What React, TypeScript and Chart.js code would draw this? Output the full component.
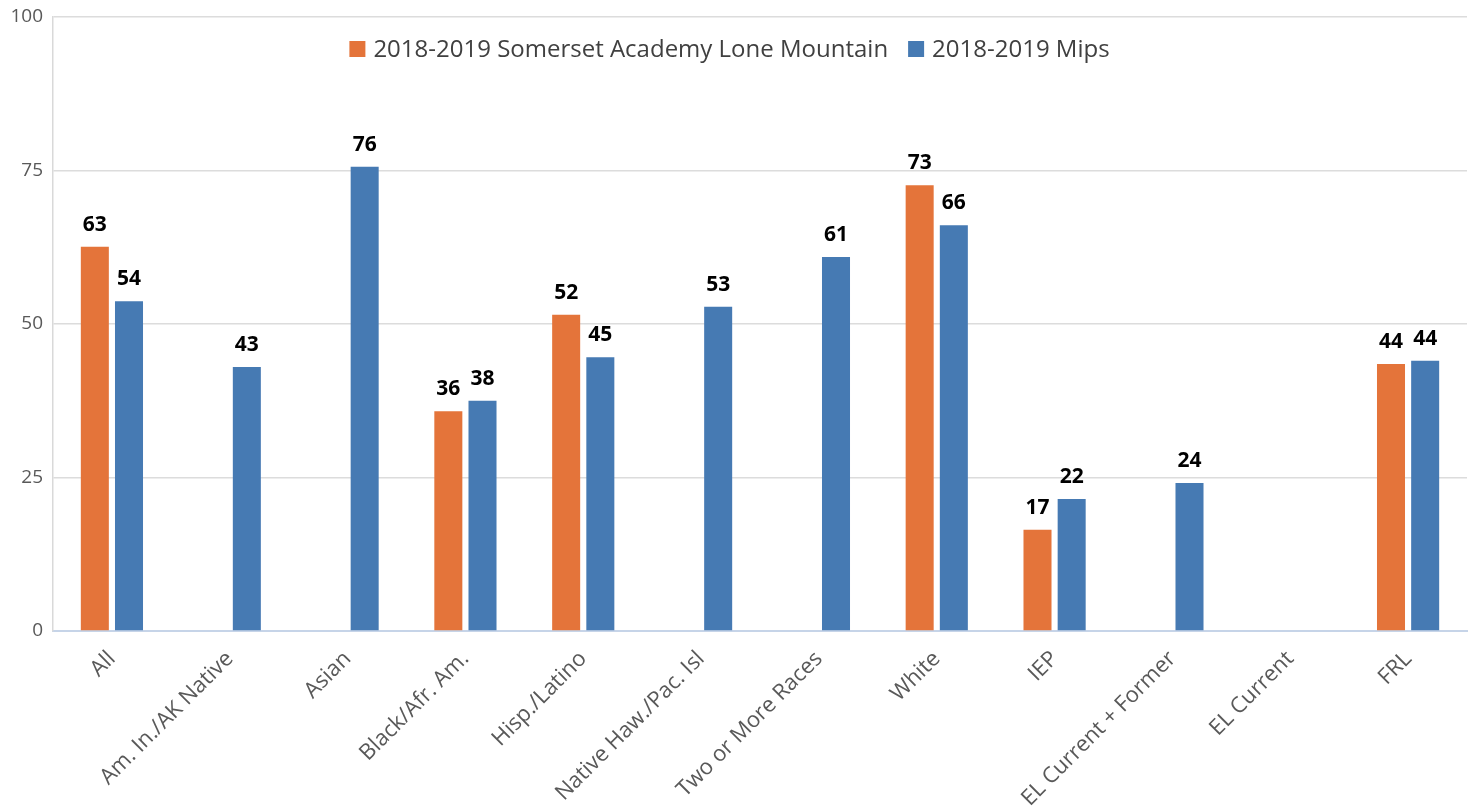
import React, { useEffect, useRef } from "react";
import { Chart, registerables } from "chart.js";

Chart.register(...registerables);

const categories = [
  "All",
  "Am. In./AK Native",
  "Asian",
  "Black/Afr. Am.",
  "Hisp./Latino",
  "Native Haw./Pac. Isl",
  "Two or More Races",
  "White",
  "IEP",
  "EL Current + Former",
  "EL Current",
  "FRL",
];

const schoolLabel = "2018-2019 Somerset Academy Lone Mountain";
const mipsLabel = "2018-2019 Mips";

const schoolValues: (number | null)[] = [62.6, null, null, 35.8, 51.5, null, null, 72.6, 16.5, null, null, 43.5];
const mipsValues: (number | null)[] = [53.7, 43.0, 75.6, 37.5, 44.6, 52.8, 60.9, 66.1, 21.5, 24.1, null, 44.0];

const yTicks = [0, 25, 50, 75, 100];

const ORANGE = "#e4743a";
const BLUE = "#467ab3";
const FONT = '"Open Sans", "Noto Sans", sans-serif';

const valueLabelPlugin = {
  id: "valueLabels",
  afterDatasetsDraw(chart: any) {
    const ctx = chart.ctx;
    ctx.save();
    ctx.font = `bold 21px ${FONT}`;
    ctx.fillStyle = "#000000";
    ctx.textAlign = "center";
    ctx.textBaseline = "alphabetic";
    chart.data.datasets.forEach((ds: any, di: number) => {
      const meta = chart.getDatasetMeta(di);
      meta.data.forEach((el: any, i: number) => {
        const v = ds.data[i];
        if (v === null || v === undefined) return;
        ctx.fillText(String(Math.round(v)), el.x, el.y - 16);
      });
    });
    ctx.restore();
  },
};

const insideLegendPlugin = {
  id: "insideLegend",
  afterDraw(chart: any) {
    const ctx = chart.ctx;
    ctx.save();
    ctx.font = `24px ${FONT}`;
    ctx.textBaseline = "middle";
    ctx.textAlign = "left";
    const box = 16;
    const gapText = 8;
    const gapItem = 20;
    const items = chart.data.datasets.map((ds: any) => ({
      label: ds.label,
      color: ds.backgroundColor,
      w: ctx.measureText(ds.label).width,
    }));
    const total = items.reduce((s: number, it: any) => s + box + gapText + it.w, 0) + gapItem * (items.length - 1);
    let x = chart.width / 2 - 8 - total / 2;
    const cy = 49;
    items.forEach((it: any) => {
      ctx.fillStyle = it.color;
      ctx.fillRect(x, cy - box / 2, box, box);
      x += box + gapText;
      ctx.fillStyle = "#404040";
      ctx.fillText(it.label, x, cy + 1);
      x += it.w + gapItem;
    });
    ctx.restore();
  },
};

export default function App() {
  const ref = useRef<HTMLCanvasElement | null>(null);

  useEffect(() => {
    document.body.style.margin = "0";
    if (!ref.current) return;
    const chart = new Chart(ref.current, {
      type: "bar",
      data: {
        labels: categories,
        datasets: [
          {
            label: schoolLabel,
            data: schoolValues,
            backgroundColor: ORANGE,
            categoryPercentage: 0.58,
            barPercentage: 0.82,
          },
          {
            label: mipsLabel,
            data: mipsValues,
            backgroundColor: BLUE,
            categoryPercentage: 0.58,
            barPercentage: 0.82,
          },
        ],
      },
      options: {
        animation: false,
        responsive: false,
        maintainAspectRatio: false,
        layout: { padding: { top: 17, right: 8, left: 0, bottom: 0 } },
        plugins: {
          legend: { display: false },
          tooltip: { enabled: false },
        },
        scales: {
          x: {
            grid: { display: false, drawTicks: false },
            border: { color: "#c6d4e8", width: 2 },
            ticks: {
              autoSkip: false,
              minRotation: 45,
              maxRotation: 45,
              padding: 15,
              color: "#595959",
              font: { family: FONT, size: 22 },
            },
            afterFit: (s: any) => {
              s.height = 175;
            },
          },
          y: {
            min: 0,
            max: 100,
            afterBuildTicks: (s: any) => {
              s.ticks = yTicks.map((v) => ({ value: v }));
            },
            grid: {
              color: "#dcdcdc",
              lineWidth: 1.5,
              drawTicks: false,
            },
            border: { color: "#d9d9d9", width: 1.5 },
            ticks: {
              padding: 10,
              color: "#595959",
              font: { family: FONT, size: 19, lineHeight: 1 },
            },
            afterFit: (s: any) => {
              s.width = 53;
              s.paddingTop = 0;
              s.paddingBottom = 0;
            },
          },
        },
      },
      plugins: [valueLabelPlugin, insideLegendPlugin],
    });
    return () => chart.destroy();
  }, []);

  return (
    <div style={{ width: 1475, height: 806 }}>
      <canvas ref={ref} width={1475} height={806} style={{ display: "block" }} />
    </div>
  );
}
